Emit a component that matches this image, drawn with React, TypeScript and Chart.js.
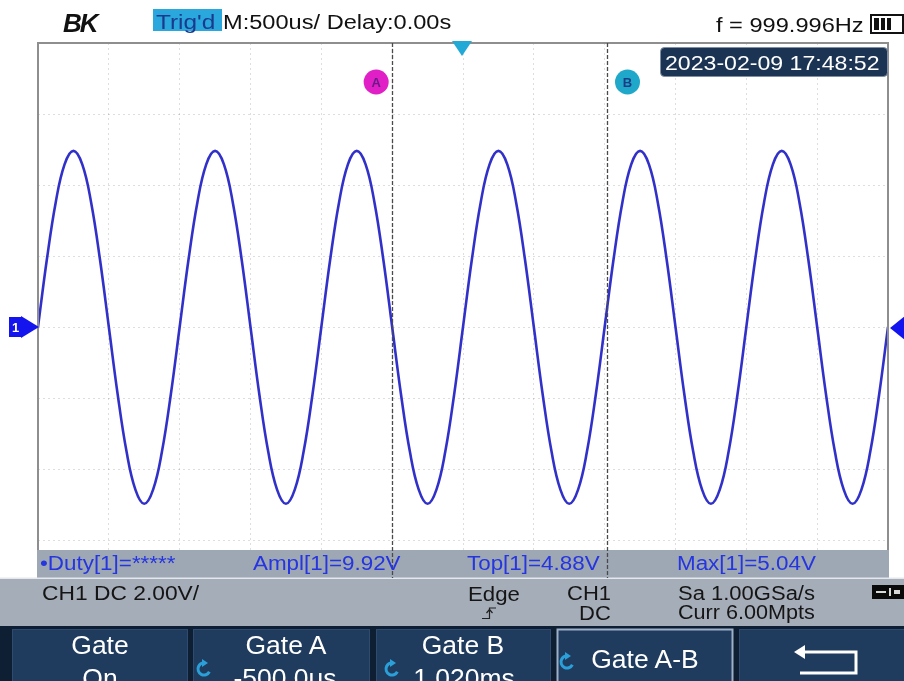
import React, { useEffect, useRef } from "react";
import { Chart, registerables } from "chart.js";

Chart.register(...registerables);

// Sample times (ms) across the 12-division screen at 500 us/div
const timeMs = [
  -3, -2.9375, -2.875, -2.8125, -2.75, -2.6875, -2.625, -2.5625,
  -2.5, -2.4375, -2.375, -2.3125, -2.25, -2.1875, -2.125, -2.0625,
  -2, -1.9375, -1.875, -1.8125, -1.75, -1.6875, -1.625, -1.5625,
  -1.5, -1.4375, -1.375, -1.3125, -1.25, -1.1875, -1.125, -1.0625,
  -1, -0.9375, -0.875, -0.8125, -0.75, -0.6875, -0.625, -0.5625,
  -0.5, -0.4375, -0.375, -0.3125, -0.25, -0.1875, -0.125, -0.0625,
  0, 0.0625, 0.125, 0.1875, 0.25, 0.3125, 0.375, 0.4375,
  0.5, 0.5625, 0.625, 0.6875, 0.75, 0.8125, 0.875, 0.9375,
  1, 1.0625, 1.125, 1.1875, 1.25, 1.3125, 1.375, 1.4375,
  1.5, 1.5625, 1.625, 1.6875, 1.75, 1.8125, 1.875, 1.9375,
  2, 2.0625, 2.125, 2.1875, 2.25, 2.3125, 2.375, 2.4375,
  2.5, 2.5625, 2.625, 2.6875, 2.75, 2.8125, 2.875, 2.9375,
  3,
];

// CH1 voltage readings (V) at each sample time
const ch1Volts = [
  0, 1.9, 3.51, 4.58, 4.96, 4.58, 3.51, 1.9,
  0, -1.9, -3.51, -4.58, -4.98, -4.58, -3.51, -1.9,
  0, 1.9, 3.51, 4.58, 4.96, 4.58, 3.51, 1.9,
  0, -1.9, -3.51, -4.58, -4.98, -4.58, -3.51, -1.9,
  0, 1.9, 3.51, 4.58, 4.96, 4.58, 3.51, 1.9,
  0, -1.9, -3.51, -4.58, -4.98, -4.58, -3.51, -1.9,
  0, 1.9, 3.51, 4.58, 4.96, 4.58, 3.51, 1.9,
  0, -1.9, -3.51, -4.58, -4.98, -4.58, -3.51, -1.9,
  0, 1.9, 3.51, 4.58, 4.96, 4.58, 3.51, 1.9,
  0, -1.9, -3.51, -4.58, -4.98, -4.58, -3.51, -1.9,
  0, 1.9, 3.51, 4.58, 4.96, 4.58, 3.51, 1.9,
  0, -1.9, -3.51, -4.58, -4.98, -4.58, -3.51, -1.9,
  0,
];

const xRangeMs = [-3, 3];
const yRangeV = [-8, 8];
const cursorAms = -0.5;
const cursorBms = 1.02;
const triggerMs = 0;

const measurements = ["\u2022Duty[1]=*****", "Ampl[1]=9.92V", "Top[1]=4.88V", "Max[1]=5.04V"];
const buttonsLine1 = ["Gate", "Gate A", "Gate B", "Gate A-B", ""];
const buttonsLine2 = ["On", "-500.0us", "1.020ms", "", ""];

const FONT = '"Liberation Sans", Arial, Helvetica, sans-serif';

type TP = {
  x: number; base: number; size: number; color: string; text: string;
  sx?: number; weight?: string; italic?: boolean; center?: boolean; ls?: number;
};
function T({ x, base, size, color, text, sx = 1, weight = "normal", italic = false, center = false, ls = 0 }: TP) {
  const top = base - 0.8465 * size;
  return (
    <span
      style={{
        position: "absolute",
        left: x,
        top,
        fontSize: size,
        lineHeight: `${size}px`,
        color,
        fontWeight: weight as any,
        fontStyle: italic ? "italic" : "normal",
        whiteSpace: "nowrap",
        letterSpacing: ls,
        transformOrigin: center ? "center" : "left",
        transform: center ? `translateX(-50%) scaleX(${sx})` : `scaleX(${sx})`,
      }}
    >
      {text}
    </span>
  );
}

const scopePlugin = {
  id: "scopeOverlay",
  afterDatasetsDraw(chart: any) {
    const { ctx, chartArea: a, scales } = chart;
    const xs = scales.x;
    const ys = scales.y;
    ctx.save();
    // frame
    ctx.strokeStyle = "#8e8e8e";
    ctx.lineWidth = 2;
    ctx.strokeRect(a.left, a.top, a.right - a.left, a.bottom - a.top);

    // measurement bar
    ctx.fillStyle = "#9ea7b4";
    ctx.fillRect(a.left - 1, 550, a.right - a.left + 2, 28);
    // status bar
    ctx.fillStyle = "#e4e7ec";
    ctx.fillRect(0, 577.5, 904, 1.5);
    ctx.fillStyle = "#a5adb9";
    ctx.fillRect(0, 579, 904, 47);
    // button row
    ctx.fillStyle = "#0e1e33";
    ctx.fillRect(0, 626, 904, 55);
    const btns = [[12, 188], [193, 370], [376, 551], [557, 733], [739, 906]];
    btns.forEach(([l, r], i) => {
      ctx.fillStyle = "#1f3b5e";
      ctx.fillRect(l, 629, r - l, 60);
      ctx.strokeStyle = i === 3 ? "#9db0c8" : "#2f4b70";
      ctx.lineWidth = i === 3 ? 2 : 1;
      ctx.strokeRect(l + 0.5, 629.5, r - l - 1, 60);
    });

    // cursor lines
    const xa = xs.getPixelForValue(cursorAms);
    const xb = xs.getPixelForValue(cursorBms);
    ctx.strokeStyle = "#4a4a4a";
    ctx.lineWidth = 1.3;
    ctx.setLineDash([4, 2]);
    [xa, xb].forEach((px) => {
      ctx.beginPath();
      ctx.moveTo(Math.round(px) + 0.5, a.top);
      ctx.lineTo(Math.round(px) + 0.5, 578);
      ctx.stroke();
    });
    ctx.setLineDash([]);

    // cursor badges
    const badge = (cx: number, fill: string, fg: string, label: string) => {
      ctx.fillStyle = fill;
      ctx.beginPath();
      ctx.arc(cx, 82, 12.5, 0, Math.PI * 2);
      ctx.fill();
      ctx.fillStyle = fg;
      ctx.font = `bold 13px ${FONT}`;
      ctx.textAlign = "center";
      ctx.textBaseline = "middle";
      ctx.fillText(label, cx, 83);
    };
    badge(xa - 16, "#e01fc6", "#6a1a86", "A");
    badge(xb + 20, "#1fa8c9", "#1b3d86", "B");

    // trigger position marker
    const xt = xs.getPixelForValue(triggerMs);
    ctx.fillStyle = "#23a9d6";
    ctx.beginPath();
    ctx.moveTo(xt - 11, 41);
    ctx.lineTo(xt + 9, 41);
    ctx.lineTo(xt - 1, 56);
    ctx.closePath();
    ctx.fill();

    // CH1 ground marker (left)
    const y0 = ys.getPixelForValue(0);
    ctx.fillStyle = "#1414ee";
    ctx.fillRect(9, y0 - 10, 13, 20);
    ctx.beginPath();
    ctx.moveTo(21, y0 - 11);
    ctx.lineTo(39, y0);
    ctx.lineTo(21, y0 + 11);
    ctx.closePath();
    ctx.fill();
    ctx.fillStyle = "#ffffff";
    ctx.font = `bold 13px ${FONT}`;
    ctx.textAlign = "center";
    ctx.textBaseline = "middle";
    ctx.fillText("1", 15.5, y0 + 1);
    // trigger level marker (right)
    ctx.fillStyle = "#1414ee";
    ctx.beginPath();
    ctx.moveTo(890, y0 + 1);
    ctx.lineTo(905, y0 - 11);
    ctx.lineTo(905, y0 + 13);
    ctx.closePath();
    ctx.fill();

    // Trig'd box
    ctx.fillStyle = "#2aa7dc";
    ctx.fillRect(153, 9, 69, 22);
    // timestamp box
    ctx.fillStyle = "#1c3453";
    ctx.strokeStyle = "#7f8ea3";
    ctx.lineWidth = 1;
    ctx.beginPath();
    (ctx as any).roundRect(660.5, 47.5, 227, 29, 4);
    ctx.fill();
    ctx.stroke();
    // battery
    ctx.strokeStyle = "#111";
    ctx.lineWidth = 2;
    ctx.strokeRect(871, 15, 32, 18);
    ctx.fillStyle = "#111";
    ctx.fillRect(874, 18, 5, 12);
    ctx.fillRect(881, 18, 4, 12);
    ctx.fillRect(887, 18, 4, 12);

    // edge trigger glyph
    ctx.strokeStyle = "#222";
    ctx.lineWidth = 1.2;
    ctx.beginPath();
    ctx.moveTo(482, 618.5);
    ctx.lineTo(489.5, 618.5);
    ctx.lineTo(489.5, 608);
    ctx.lineTo(496, 608);
    ctx.stroke();
    ctx.beginPath();
    ctx.moveTo(486.5, 613);
    ctx.lineTo(489.5, 609.5);
    ctx.lineTo(492.5, 613);
    ctx.stroke();

    // small status icon
    ctx.fillStyle = "#0a0a0a";
    ctx.fillRect(872, 585, 32, 14);
    ctx.fillStyle = "#d8d8d8";
    ctx.fillRect(876, 591, 10, 2);
    ctx.fillRect(889, 588, 2, 8);
    ctx.fillRect(894, 590, 6, 4);

    // rotary knob icons
    const knob = (cx: number, cy: number) => {
      ctx.strokeStyle = "#2b9fd8";
      ctx.lineWidth = 3;
      ctx.beginPath();
      ctx.arc(cx, cy, 6, Math.PI * 0.15, Math.PI * 1.55);
      ctx.stroke();
      ctx.fillStyle = "#2b9fd8";
      ctx.beginPath();
      ctx.moveTo(cx - 2, cy - 10);
      ctx.lineTo(cx + 4, cy - 6);
      ctx.lineTo(cx - 2, cy - 2);
      ctx.closePath();
      ctx.fill();
    };
    knob(204, 669);
    knob(392, 669);
    knob(567, 662);

    // back arrow
    ctx.strokeStyle = "#ffffff";
    ctx.lineWidth = 3;
    ctx.beginPath();
    ctx.moveTo(803, 652);
    ctx.lineTo(856, 652);
    ctx.lineTo(856, 673);
    ctx.lineTo(800, 673);
    ctx.stroke();
    ctx.fillStyle = "#ffffff";
    ctx.beginPath();
    ctx.moveTo(794, 652);
    ctx.lineTo(805, 645);
    ctx.lineTo(805, 659);
    ctx.closePath();
    ctx.fill();

    ctx.restore();
  },
};

export default function App() {
  const ref = useRef<HTMLCanvasElement | null>(null);
  useEffect(() => {
    if (!ref.current) return;
    const GRID = "rgba(0,0,0,0.13)";
    const chart = new Chart(ref.current, {
      type: "line",
      data: {
        datasets: [
          {
            label: "CH1",
            data: timeMs.map((t, i) => ({ x: t, y: ch1Volts[i] })),
            borderColor: "#3131c9",
            borderWidth: 2.6,
            pointRadius: 0,
            tension: 0.4,
            fill: false,
          },
        ],
      },
      options: {
        responsive: false,
        animation: false,
        devicePixelRatio: 1,
        layout: { padding: { left: 38, right: 16, top: 43, bottom: 70 } },
        plugins: { legend: { display: false }, tooltip: { enabled: false } },
        scales: {
          x: {
            type: "linear",
            min: xRangeMs[0],
            max: xRangeMs[1],
            ticks: { display: false, stepSize: 0.5 },
            grid: { color: GRID, drawTicks: false, lineWidth: 1 },
            border: { display: false, dash: [2, 3] },
          },
          y: {
            type: "linear",
            min: yRangeV[0],
            max: yRangeV[1],
            ticks: { display: false, stepSize: 2 },
            grid: { color: GRID, drawTicks: false, lineWidth: 1 },
            border: { display: false, dash: [2, 3] },
          },
        },
      } as any,
      plugins: [scopePlugin],
    });
    return () => chart.destroy();
  }, []);

  const mColor = "#2535df";
  const mX = [40, 253, 467, 677];
  const mSx = [1.12, 1.12, 1.12, 1.12];
  const b1Centers = [100, 286, 463, 645, 0];
  const b2Centers = [100, 285, 464, 0, 0];

  return (
    <div
      style={{
        position: "fixed",
        left: 0,
        top: 0,
        width: 904,
        height: 681,
        overflow: "hidden",
        background: "#ffffff",
        fontFamily: FONT,
      }}
    >
      <canvas ref={ref} width={904} height={681} style={{ position: "absolute", left: 0, top: 0, width: 904, height: 681 }} />
      <T x={63} base={32} size={26} color="#111" text="BK" weight="bold" italic ls={-2} />
      <T x={156} base={29} size={20} color="#1a3a8e" text="Trig'd" sx={1.22} />
      <T x={223} base={29} size={20} color="#111" text="M:500us/ Delay:0.00s" sx={1.18} />
      <T x={716} base={32} size={20} color="#111" text="f = 999.996Hz" sx={1.18} />
      <T x={665} base={70} size={21} color="#ffffff" text="2023-02-09 17:48:52" sx={1.1} />
      {measurements.map((m, i) => (
        <T key={m} x={mX[i]} base={570} size={20} color={mColor} text={m} sx={mSx[i]} />
      ))}
      <T x={42} base={600} size={20} color="#151515" text="CH1 DC 2.00V/" sx={1.14} />
      <T x={468} base={601} size={20} color="#151515" text="Edge" sx={1.11} />
      <T x={567} base={600} size={20} color="#151515" text="CH1" sx={1.1} />
      <T x={579} base={620} size={20} color="#151515" text="DC" sx={1.1} />
      <T x={678} base={600} size={20} color="#151515" text="Sa 1.00GSa/s" sx={1.1} />
      <T x={678} base={619} size={20} color="#151515" text="Curr 6.00Mpts" sx={1.08} />
      {buttonsLine1.map((b, i) =>
        b ? (
          <T key={"l1" + i} x={b1Centers[i]} base={i === 3 ? 668 : 654} size={25} color="#ffffff" text={b} sx={1.06} center />
        ) : null
      )}
      {buttonsLine2.map((b, i) =>
        b ? <T key={"l2" + i} x={b2Centers[i]} base={687} size={25} color="#ffffff" text={b} sx={1.06} center /> : null
      )}
    </div>
  );
}
